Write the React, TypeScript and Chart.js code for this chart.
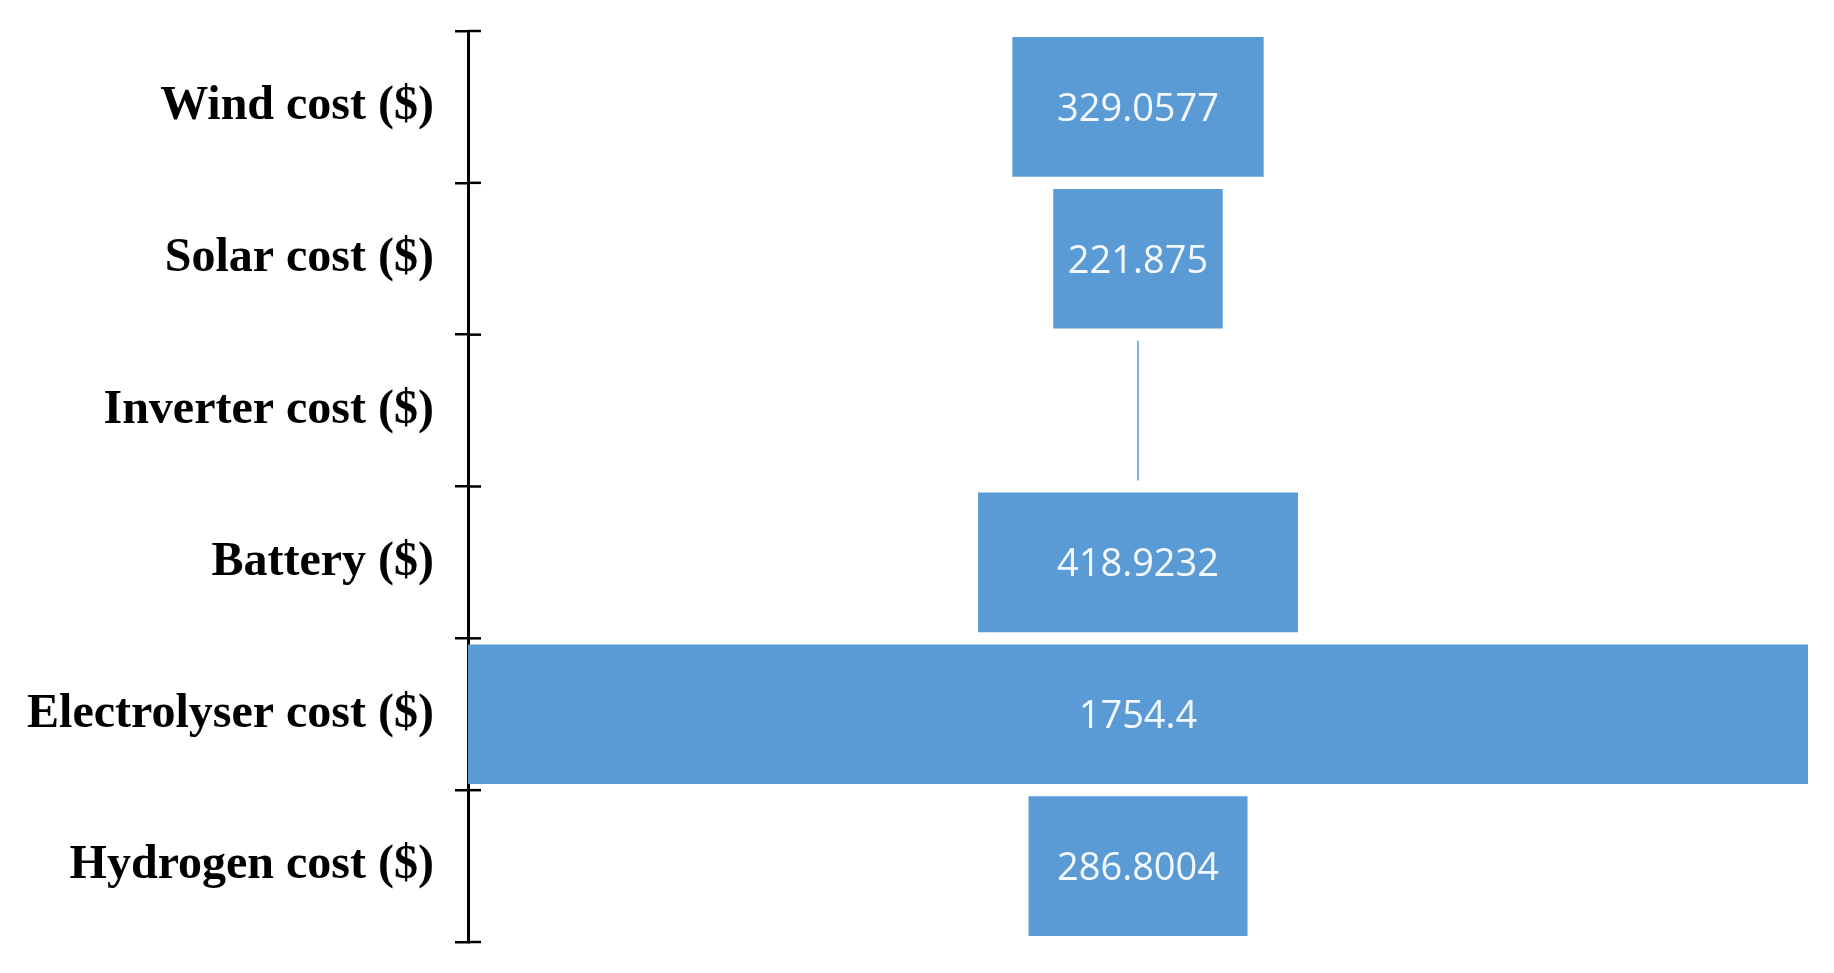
import React, { useEffect, useRef } from "react";
import { Chart, registerables } from "chart.js";

Chart.register(...registerables);

const categories = [
  "Wind cost ($)",
  "Solar cost ($)",
  "Inverter cost ($)",
  "Battery ($)",
  "Electrolyser cost ($)",
  "Hydrogen cost ($)",
];
const values = [329.0577, 221.875, 2, 418.9232, 1754.4, 286.8004];
const valueLabels = ["329.0577", "221.875", "", "418.9232", "1754.4", "286.8004"];
const maxValue = 1754.4;

const BAR_COLOR = "#5B9BD5";

const labelPlugin = {
  id: "funnelLabels",
  afterDatasetsDraw(chart: any) {
    const ctx = chart.ctx;
    const meta = chart.getDatasetMeta(0);
    ctx.save();
    ctx.fillStyle = "#f4f8ff";
    ctx.font = "38px 'Open Sans'";
    ctx.textAlign = "center";
    ctx.textBaseline = "middle";
    meta.data.forEach((bar: any, i: number) => {
      const t = valueLabels[i];
      if (!t) return;
      ctx.fillText(t, (bar.x + bar.base) / 2, bar.y + 3);
    });
    ctx.restore();
  },
};

const tickPlugin = {
  id: "rightTicks",
  afterDraw(chart: any) {
    const y = chart.scales.y;
    const ctx = chart.ctx;
    ctx.save();
    ctx.strokeStyle = "#000000";
    ctx.lineWidth = 2.5;
    const n = categories.length;
    for (let i = 0; i <= n; i++) {
      const py = y.getPixelForValue(i - 0.5);
      ctx.beginPath();
      ctx.moveTo(y.right, py);
      ctx.lineTo(y.right + 13, py);
      ctx.stroke();
    }
    ctx.restore();
  },
};

export default function App() {
  const ref = useRef<HTMLCanvasElement | null>(null);
  useEffect(() => {
    if (!ref.current) return;
    const center = maxValue / 2;
    const chart = new Chart(ref.current, {
      type: "bar",
      data: {
        labels: categories,
        datasets: [
          {
            data: values.map((v) => [center - v / 2, center + v / 2]) as any,
            backgroundColor: BAR_COLOR,
            borderWidth: 0,
            barPercentage: 0.92,
            categoryPercentage: 1,
          },
        ],
      },
      options: {
        indexAxis: "y",
        animation: false,
        responsive: true,
        maintainAspectRatio: false,
        layout: { padding: { top: 31, bottom: 31, right: 26, left: 0 } },
        plugins: {
          legend: { display: false },
          tooltip: { enabled: false },
        },
        scales: {
          x: {
            display: false,
            min: 0,
            max: maxValue,
          },
          y: {
            afterFit: (scale: any) => {
              scale.width = 468;
              scale.paddingTop = 0;
              scale.paddingBottom = 0;
            },
            grid: {
              offset: true,
              drawOnChartArea: false,
              drawTicks: true,
              tickLength: 13,
              color: "#000000",
              lineWidth: 2.5,
            },
            border: { display: true, color: "#000000", width: 3 },
            ticks: {
              color: "#000000",
              padding: 21,
              font: { family: "'Liberation Serif', 'Times New Roman', serif", size: 48, weight: "bold" },
            },
          },
        },
      },
      plugins: [labelPlugin, tickPlugin],
    });
    return () => chart.destroy();
  }, []);
  return (
    <div style={{ position: "absolute", left: 0, top: 0, width: 1834, height: 973, background: "#ffffff" }}>
      <canvas ref={ref} />
    </div>
  );
}
